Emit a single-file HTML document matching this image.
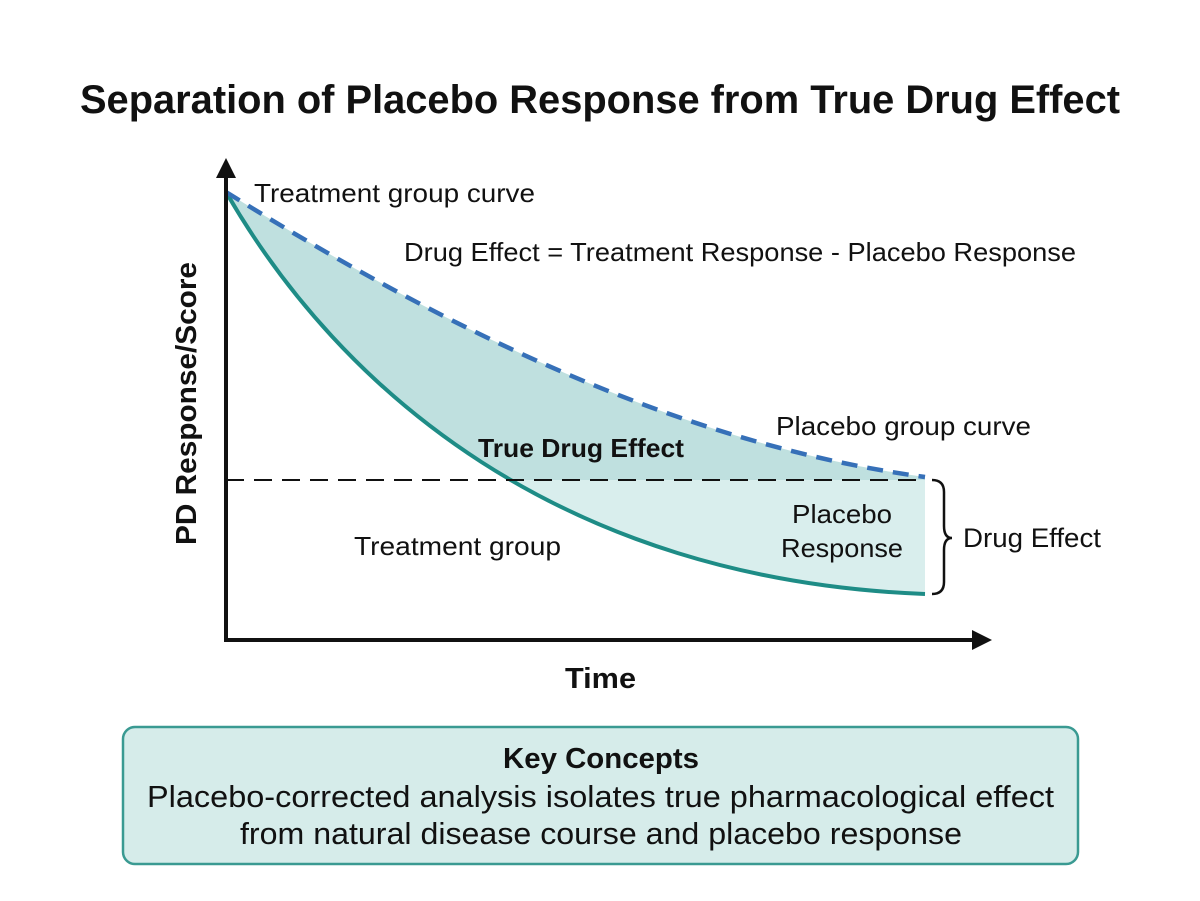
<!DOCTYPE html>
<html><head><meta charset="utf-8"><style>
body{margin:0;background:#fff;}
svg text{font-family:"Liberation Sans",sans-serif;}
</style></head><body>
<svg width="1200" height="896" viewBox="0 0 1200 896" xmlns="http://www.w3.org/2000/svg">
<defs>
<clipPath id="above"><path d="M226,192 C340,390 560,580 925,594 L925,150 L226,150 Z"/></clipPath>
</defs>
<rect width="1200" height="896" fill="#fff"/>
<text x="80" y="113" textLength="1040" lengthAdjust="spacingAndGlyphs" font-size="40" font-weight="bold" fill="#111">Separation of Placebo Response from True Drug Effect</text>
<g clip-path="url(#above)">
<path d="M226,192 C400,300 650,440 925,477 L925,594 L226,594 Z" fill="#bfe0df"/>
<rect x="226" y="480" width="699" height="120" fill="#d9eeed"/>
</g>
<path d="M226,192 C340,390 560,580 925,594" fill="none" stroke="#1e8c86" stroke-width="4"/>
<path d="M226,192 C400,300 650,440 925,477" fill="none" stroke="#3670b8" stroke-width="4.5" stroke-dasharray="16,10"/>
<line x1="226" y1="480" x2="925" y2="480" stroke="#111" stroke-width="2" stroke-dasharray="18,10"/>
<line x1="226" y1="640" x2="226" y2="175" stroke="#111" stroke-width="4"/>
<polygon points="226,158 216,178 236,178" fill="#111"/>
<line x1="224" y1="640" x2="975" y2="640" stroke="#111" stroke-width="4"/>
<polygon points="992,640 972,630 972,650" fill="#111"/>
<path d="M932,480 Q944,480 944,492 L944,526 Q944,538 952,538 Q944,538 944,550 L944,582 Q944,594 932,594" fill="none" stroke="#111" stroke-width="2.5"/>
<text x="254" y="202" textLength="281" lengthAdjust="spacingAndGlyphs" font-size="26" fill="#111">Treatment group curve</text>
<text x="404" y="261" textLength="672" lengthAdjust="spacingAndGlyphs" font-size="26" fill="#111">Drug Effect = Treatment Response - Placebo Response</text>
<text x="776" y="435" textLength="255" lengthAdjust="spacingAndGlyphs" font-size="26" fill="#111">Placebo group curve</text>
<text x="478" y="457" textLength="206" lengthAdjust="spacingAndGlyphs" font-size="26" font-weight="bold" fill="#111">True Drug Effect</text>
<text x="354" y="555" textLength="207" lengthAdjust="spacingAndGlyphs" font-size="26" fill="#111">Treatment group</text>
<text x="792" y="523" textLength="100" lengthAdjust="spacingAndGlyphs" font-size="26" fill="#111">Placebo</text>
<text x="781" y="557" textLength="122" lengthAdjust="spacingAndGlyphs" font-size="26" fill="#111">Response</text>
<text x="963" y="547" textLength="138" lengthAdjust="spacingAndGlyphs" font-size="27" fill="#111">Drug Effect</text>
<text x="565" y="688" textLength="71" lengthAdjust="spacingAndGlyphs" font-size="29" font-weight="bold" fill="#111">Time</text>
<text transform="translate(196,545) rotate(-90)" textLength="283" lengthAdjust="spacingAndGlyphs" font-size="29" font-weight="bold" fill="#111">PD Response/Score</text>
<rect x="123" y="727" width="955" height="137" rx="12" fill="#d6ecea" stroke="#3a9a92" stroke-width="2.5"/>
<text x="503" y="768" textLength="196" lengthAdjust="spacingAndGlyphs" font-size="29" font-weight="bold" fill="#111">Key Concepts</text>
<text x="147" y="807" textLength="907" lengthAdjust="spacingAndGlyphs" font-size="31" fill="#111">Placebo-corrected analysis isolates true pharmacological effect</text>
<text x="240" y="844" textLength="722" lengthAdjust="spacingAndGlyphs" font-size="31" fill="#111">from natural disease course and placebo response</text>
</svg>
</body></html>
